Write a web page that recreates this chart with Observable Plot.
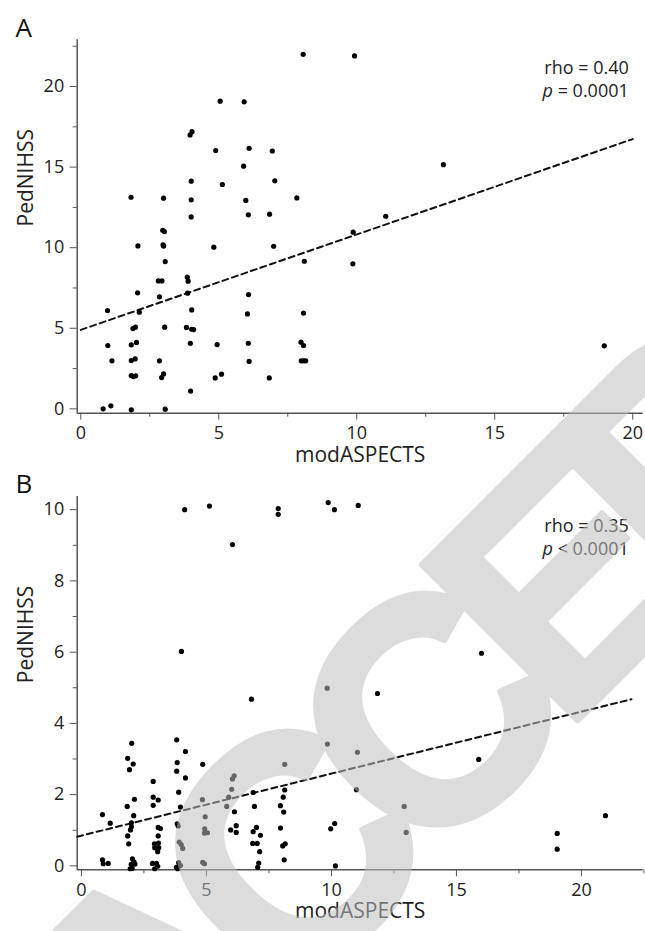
<!DOCTYPE html>
<html>
<head>
<meta charset="utf-8">
<script src="https://cdn.jsdelivr.net/npm/d3@7"></script>
<script src="https://cdn.jsdelivr.net/npm/@observablehq/plot@0.6"></script>
<style>
  html, body { margin: 0; padding: 0; background: #fff; }
  #wrap { position: relative; width: 645px; height: 931px; overflow: hidden; font-family: "Open Sans", sans-serif; }
  #wrap svg.plot { display: block; }
  #wm { position: absolute; left: 0; top: 0; pointer-events: none; }
</style>
</head>
<body>
<div id="wrap"></div>
<script>
// ---------- Panel A data ----------
const aX = [5.05,5.92,4.03,3.96,4.89,6.10,6.94,5.90,4.0,5.13,7.03,1.82,3.0,4.0,5.98,7.83,4.0,6.07,6.84,2.97,3.03,2.07,2.98,3.0,4.82,6.99,3.06,8.1,2.81,2.94,3.86,3.89,2.06,3.87,6.08,0.97,2.12,2.85,4.02,6.04,8.07,1.89,1.98,3.04,3.83,4.02,4.09,0.98,1.83,2.02,3.97,4.94,6.07,7.98,8.07,1.13,1.83,1.97,2.85,6.1,7.99,8.07,8.15,1.83,1.9,1.99,2.93,3.0,4.87,5.1,6.83,3.98,0.81,1.09,1.83,3.06,8.06,9.92,13.14,11.05,9.87,9.86,18.97];
const aY = [19.09,19.05,17.2,17.0,16.03,16.17,16.0,15.06,14.13,13.92,14.15,13.13,13.07,12.97,12.93,13.09,11.91,12.04,12.08,11.08,11.0,10.11,10.18,10.1,10.03,10.09,9.14,9.16,7.94,7.94,8.17,7.92,7.2,7.18,7.09,6.1,6.0,6.95,6.14,5.89,5.94,4.98,5.07,5.07,5.05,4.94,4.92,3.93,3.97,4.12,4.07,3.99,4.07,4.14,3.93,2.98,3.0,3.1,2.98,2.94,2.98,2.98,2.98,2.07,2.0,2.05,1.94,2.17,1.92,2.15,1.92,1.1,0,0.19,-0.06,-0.02,22.0,21.9,15.15,11.95,10.96,9.0,3.91];
const aFit = {intercept: 4.9, slope: 0.592, from: 0, to: 20};
const aStats = ["rho = 0.40", "p = 0.0001"];

// ---------- Panel B data ----------
const bX = [4.13,5.12,6.04,7.87,7.87,9.87,10.12,11.07,4.0,16.0,9.83,11.84,6.8,9.84,11.04,15.89,11.0,12.91,9.97,10.13,12.99,19.03,19.03,20.96,10.16,8.13,8.13,8.07,7.96,8.09,7.96,8.15,8.05,8.11,2.01,3.81,1.85,2.07,1.92,4.16,3.83,3.81,4.16,2.87,4.85,6.11,6.04,2.12,2.87,3.07,3.89,4.84,6.01,6.87,0.84,1.15,1.83,2.09,2.87,3.96,4.95,5.81,5.89,6.12,6.92,2.0,2.0,1.96,1.85,1.89,3.07,3.16,3.07,2.92,3.08,2.93,3.09,3.05,3.83,3.87,3.91,3.99,4.05,4.93,5.04,4.92,5.97,6.19,6.19,6.87,7.0,6.85,7.03,7.16,7.13,0.84,0.87,1.07,2.04,2.1,1.99,2.14,2.03,1.95,2.84,3.0,3.05,2.93,3.89,3.96,3.85,3.8,4.85,4.92,7.09,7.05];
const bY = [10.0,10.1,9.02,10.03,9.87,10.2,10.0,10.12,6.02,5.97,4.99,4.84,4.68,3.42,3.19,2.99,2.14,1.67,1.04,1.19,0.94,0.91,0.47,1.41,0.0,2.85,2.13,1.93,1.69,1.51,1.06,0.62,0.56,0.17,3.44,3.54,3.02,2.86,2.7,3.21,2.9,2.66,2.47,2.37,2.85,2.53,2.44,1.87,1.93,1.85,2.07,1.86,2.15,2.06,1.44,1.2,1.67,1.41,1.7,1.65,1.38,1.67,1.93,1.52,1.67,1.21,1.1,1.01,0.84,0.62,1.08,1.05,0.84,0.62,0.64,0.51,0.51,0.40,1.18,1.12,0.67,0.6,0.49,1.04,0.93,0.92,1.01,0.94,1.13,0.96,1.08,0.63,0.63,0.86,0.4,0.17,0.06,0.07,0.2,0.11,0.04,0.05,-0.07,-0.08,0.07,0.07,-0.01,-0.08,0.09,0.01,-0.08,-0.04,0.1,0.06,0.08,-0.04];
const bFit = {intercept: 0.85, slope: 0.174, from: -0.17, to: 22};
const bStats = ["rho = 0.35", "p < 0.0001"];

// ---------- Axis ticks ----------
const aXMajor = [0, 5, 10, 15, 20];
const aXMinor = [2.5, 7.5, 12.5, 17.5];
const aYMajor = [0, 5, 10, 15, 20];
const aYMinor = [2.5, 7.5, 12.5, 17.5, 22.5];
const bXMajor = [0, 5, 10, 15, 20];
const bXMinor = [2.5, 7.5, 12.5, 17.5, 22.5];
const bYMajor = [0, 2, 4, 6, 8, 10];
const bYMinor = [1, 3, 5, 7, 9];

const xLabel = "modASPECTS";
const yLabel = "PedNIHSS";
const watermark = "ACCEPTED";

function panel(cfg) {
  const pts = cfg.xs.map((x, i) => ({x, y: cfg.ys[i]}));
  const fitPts = [cfg.fit.from, cfg.fit.to].map(x => ({x, y: cfg.fit.intercept + cfg.fit.slope * x}));
  const axisCol = "#555";
  const txtCol = "#222";
  const svg = Plot.plot({
    width: 645,
    height: cfg.height,
    marginTop: cfg.marginTop,
    marginBottom: cfg.marginBottom,
    marginLeft: 76.7,
    marginRight: 2.3,
    style: {fontFamily: "'Open Sans', sans-serif", fontSize: "18px", color: txtCol, background: "transparent", overflow: "visible"},
    x: {domain: cfg.xDomain, label: null},
    y: {domain: cfg.yDomain, label: null},
    marks: [
      Plot.axisX({ticks: cfg.xMinor, tickFormat: () => "", tickSize: 4, stroke: axisCol, label: null}),
      Plot.axisX({ticks: cfg.xMajor, tickFormat: d => String(d), tickSize: 7, tickPadding: 6, stroke: axisCol, fill: txtCol, label: null}),
      Plot.axisY({ticks: cfg.yMinor, tickFormat: () => "", tickSize: 4, stroke: axisCol, label: null}),
      Plot.axisY({ticks: cfg.yMajor, tickFormat: d => String(d), tickSize: 7, tickPadding: 6, stroke: axisCol, fill: txtCol, label: null}),
      Plot.ruleX([cfg.xDomain[0]], {stroke: axisCol, strokeWidth: 1.5}),
      Plot.ruleY([cfg.yDomain[0]], {stroke: axisCol, strokeWidth: 1.5}),
      Plot.line(fitPts, {x: "x", y: "y", stroke: "#111", strokeWidth: 2, strokeDasharray: "6,4"}),
      Plot.dot(pts, {x: "x", y: "y", r: 2.6, fill: "#000", stroke: "none"}),
      Plot.text([cfg.stats[0]], {text: d => d, frameAnchor: "top-right", textAnchor: "end", lineAnchor: "top", dx: -14.4, dy: cfg.statDy, fontSize: 18, fill: txtCol}),
      Plot.text([cfg.stats[1]], {text: d => d, frameAnchor: "top-right", textAnchor: "end", lineAnchor: "top", dx: -14.4, dy: cfg.statDy + 23, fontSize: 18, fill: txtCol}),
      Plot.text([yLabel], {text: d => d, frameAnchor: "left", rotate: -90, dx: -50.7, fontSize: 21, fill: txtCol}),
      Plot.text([xLabel], {text: d => d, frameAnchor: "bottom", dy: 48.5, fontSize: 21, fill: txtCol}),
      Plot.text([cfg.letter], {text: d => d, frameAnchor: "top-left", textAnchor: "start", lineAnchor: "top", dx: -61.7, dy: cfg.letterDy, fontSize: 26, fill: "#111"})
    ]
  });
  svg.classList.add("plot");
  d3.select(svg).selectAll("text").each(function () {
    const t = this.textContent;
    if (t === cfg.stats[1]) {
      const sel = d3.select(this);
      sel.text(null);
      sel.append("tspan").attr("font-style", "italic").text(t.slice(0, 1));
      sel.append("tspan").text(t.slice(1));
    }
  });
  return svg;
}

const wrap = document.getElementById("wrap");
wrap.appendChild(panel({
  xs: aX, ys: aY, fit: aFit, stats: aStats, letter: "A",
  height: 470, marginTop: 39.3, marginBottom: 57.3,
  xDomain: [-0.13, 20.38], yDomain: [-0.27, 22.9],
  xMajor: aXMajor, xMinor: aXMinor, yMajor: aYMajor, yMinor: aYMinor,
  statDy: 21.9, letterDy: -20.8
}));
wrap.appendChild(panel({
  xs: bX, ys: bY, fit: bFit, stats: bStats, letter: "B",
  height: 461, marginTop: 26, marginBottom: 61.7,
  xDomain: [-0.17, 22.47], yDomain: [-0.11, 10.37],
  xMajor: bXMajor, xMinor: bXMinor, yMajor: bYMajor, yMinor: bYMinor,
  statDy: 22.3, letterDy: -21.5
}));

// Watermark overlay (semi-transparent grey, rotated)
const wm = d3.select(wrap).append("svg").attr("id", "wm").attr("width", 645).attr("height", 931);
wm.append("g")
  .attr("opacity", 0.533)
  .append("text")
  .attr("transform", "translate(148.6,1149.3) rotate(-45)")
  .attr("font-family", "'Liberation Sans', Arial, sans-serif")
  .attr("font-weight", "bold")
  .attr("font-size", 320)
  .attr("letter-spacing", -36)
  .attr("fill", "rgb(191,191,191)")
  .attr("stroke", "rgb(191,191,191)")
  .attr("stroke-width", 6)
  .attr("stroke-linejoin", "round")
  .text(watermark);
</script>
</body>
</html>
